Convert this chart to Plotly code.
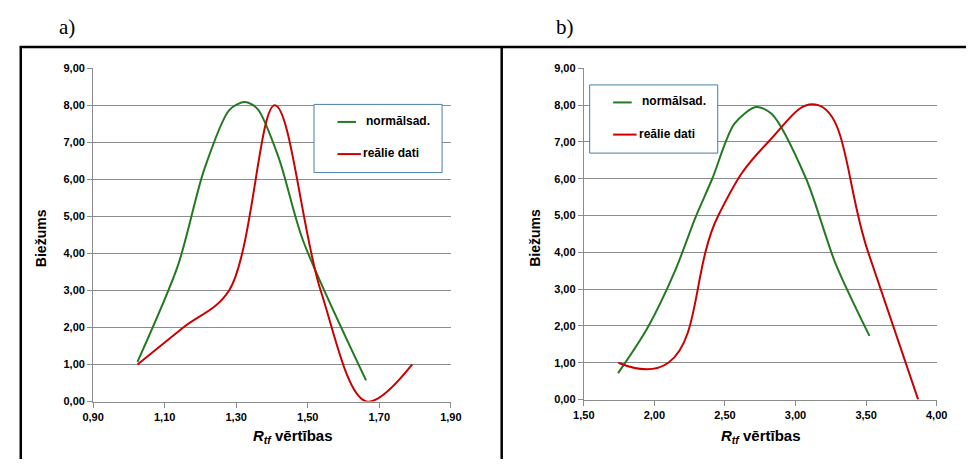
import plotly.graph_objects as go

# ---- data ----
a_x_norm = [1.024, 1.137, 1.210, 1.281, 1.324, 1.360, 1.420, 1.486, 1.663]
a_y_norm = [1.07, 3.67, 6.25, 7.88, 8.09, 7.90, 6.55, 4.37, 0.57]
a_x_real = [1.024, 1.152, 1.280, 1.408, 1.536, 1.664, 1.792]
a_y_real = [1, 2, 3, 8, 3, 0, 1]

b_x_norm = [1.743, 1.950, 2.151, 2.290, 2.410, 2.566, 2.721, 2.832, 3.075, 3.282, 3.524]
b_y_norm = [0.72, 1.94, 3.54, 4.94, 6.00, 7.49, 7.95, 7.76, 6.00, 3.71, 1.73]
b_x_real = [1.745, 2.099, 2.453, 2.807, 3.161, 3.515, 3.869]
b_y_real = [1, 1, 5, 7, 8, 4, 0]

a_xticks = [0.9, 1.1, 1.3, 1.5, 1.7, 1.9]
b_xticks = [1.5, 2.0, 2.5, 3.0, 3.5, 4.0]
yticks = [0, 1, 2, 3, 4, 5, 6, 7, 8, 9]

name_norm = "normālsad."
name_real = "reālie dati"
ytitle = "Biežums"
xtitle = "<b><i>R<sub>tf</sub></i> vērtības</b>"

GREEN = "#237a23"
RED = "#cc0000"
GRID = "#8c8c8c"

W, H = 977, 465


def px(x):
    return x / W


def py(y):
    return 1 - y / H


def ticklabels(vals):
    return ["<b>%s</b>" % ("%.2f" % v).replace(".", ",") for v in vals]


fig = go.Figure()
fig.add_trace(go.Scatter(x=a_x_norm, y=a_y_norm, mode="lines", line=dict(color=GREEN, width=2, shape="spline", smoothing=0.8), xaxis="x", yaxis="y", showlegend=False))
fig.add_trace(go.Scatter(x=a_x_real, y=a_y_real, mode="lines", line=dict(color=RED, width=2, shape="spline", smoothing=1.0), xaxis="x", yaxis="y", showlegend=False))
fig.add_trace(go.Scatter(x=b_x_norm, y=b_y_norm, mode="lines", line=dict(color=GREEN, width=2, shape="spline", smoothing=0.8), xaxis="x2", yaxis="y2", showlegend=False))
fig.add_trace(go.Scatter(x=b_x_real, y=b_y_real, mode="lines", line=dict(color=RED, width=2, shape="spline", smoothing=1.3), xaxis="x2", yaxis="y2", showlegend=False))

tickfont = dict(family="Arial, Liberation Sans", size=11, color="#000000")
axis_common = dict(showline=True, linecolor=GRID, linewidth=1, ticks="outside", ticklen=5, tickcolor=GRID,
                   tickfont=tickfont, zeroline=False)

fig.update_layout(
    width=W, height=H, margin=dict(l=0, r=0, t=0, b=0),
    paper_bgcolor="white", plot_bgcolor="white",
    xaxis=dict(domain=[px(84), px(450)], range=[0.9, 1.9], tickvals=a_xticks, ticktext=ticklabels(a_xticks), showgrid=False, anchor="y", **axis_common),
    yaxis=dict(domain=[py(406), py(64)], range=[0, 9], tickvals=yticks, ticktext=ticklabels(yticks), showgrid=True, gridcolor=GRID, gridwidth=1, anchor="x", **axis_common),
    xaxis2=dict(domain=[px(586), px(947)], range=[1.5, 4.0], tickvals=b_xticks, ticktext=ticklabels(b_xticks), showgrid=False, anchor="y2", **axis_common),
    yaxis2=dict(domain=[py(404), py(64)], range=[0, 9], tickvals=yticks, ticktext=ticklabels(yticks), showgrid=True, gridcolor=GRID, gridwidth=1, anchor="x2", **axis_common),
)

shapes = []
# frame lines
shapes.append(dict(type="line", xref="paper", yref="paper", x0=px(9), x1=1.0, y0=py(42), y1=py(42), line=dict(color="black", width=2.5)))
shapes.append(dict(type="line", xref="paper", yref="paper", x0=px(10), x1=px(10), y0=py(41), y1=0, line=dict(color="black", width=2.5)))
shapes.append(dict(type="line", xref="paper", yref="paper", x0=px(502), x1=px(502), y0=py(41), y1=0, line=dict(color="black", width=2.5)))

annotations = []
label_font = dict(family="Liberation Serif, Times New Roman", size=21, color="black")
annotations.append(dict(text="a)", x=px(47), y=py(22), xref="paper", yref="paper", xanchor="left", yanchor="middle", showarrow=False, font=label_font))
annotations.append(dict(text="b)", x=px(555), y=py(22), xref="paper", yref="paper", xanchor="left", yanchor="middle", showarrow=False, font=label_font))

ytfont = dict(family="Arial, Liberation Sans", size=14, color="black")
annotations.append(dict(text="<b>%s</b>" % ytitle, x=px(31), y=py(238), xref="paper", yref="paper", xanchor="center", yanchor="middle", textangle=-90, showarrow=False, font=ytfont))
annotations.append(dict(text="<b>%s</b>" % ytitle, x=px(536), y=py(238), xref="paper", yref="paper", xanchor="center", yanchor="middle", textangle=-90, showarrow=False, font=ytfont))
xtfont = dict(family="Arial, Liberation Sans", size=15, color="black")
annotations.append(dict(text=xtitle, x=px(289), y=py(442), xref="paper", yref="paper", xanchor="center", yanchor="middle", showarrow=False, font=xtfont))
annotations.append(dict(text=xtitle, x=px(767), y=py(442), xref="paper", yref="paper", xanchor="center", yanchor="middle", showarrow=False, font=xtfont))

# legend boxes
legfont = dict(family="Arial, Liberation Sans", size=12, color="black")
for (bx0, by0) in [(310, 101), (592, 81)]:
    shapes.append(dict(type="rect", xref="paper", yref="paper", x0=px(bx0), x1=px(bx0 + 131), y0=py(by0 + 70), y1=py(by0),
                       line=dict(color="#4a7fa3", width=1), fillcolor="white", layer="above"))
    shapes.append(dict(type="line", xref="paper", yref="paper", x0=px(bx0 + 24), x1=px(bx0 + 43), y0=py(by0 + 18), y1=py(by0 + 18),
                       line=dict(color=GREEN, width=2), layer="above"))
    shapes.append(dict(type="line", xref="paper", yref="paper", x0=px(bx0 + 24), x1=px(bx0 + 48), y0=py(by0 + 51), y1=py(by0 + 51),
                       line=dict(color=RED, width=2), layer="above"))
    annotations.append(dict(text="<b>%s</b>" % name_norm, x=px(bx0 + 51), y=py(by0 + 17), xref="paper", yref="paper", xanchor="left", yanchor="middle", showarrow=False, font=legfont))
    annotations.append(dict(text="<b>%s</b>" % name_real, x=px(bx0 + 48), y=py(by0 + 50), xref="paper", yref="paper", xanchor="left", yanchor="middle", showarrow=False, font=legfont))

fig.update_layout(shapes=shapes, annotations=annotations)
fig.write_html("out.html")
